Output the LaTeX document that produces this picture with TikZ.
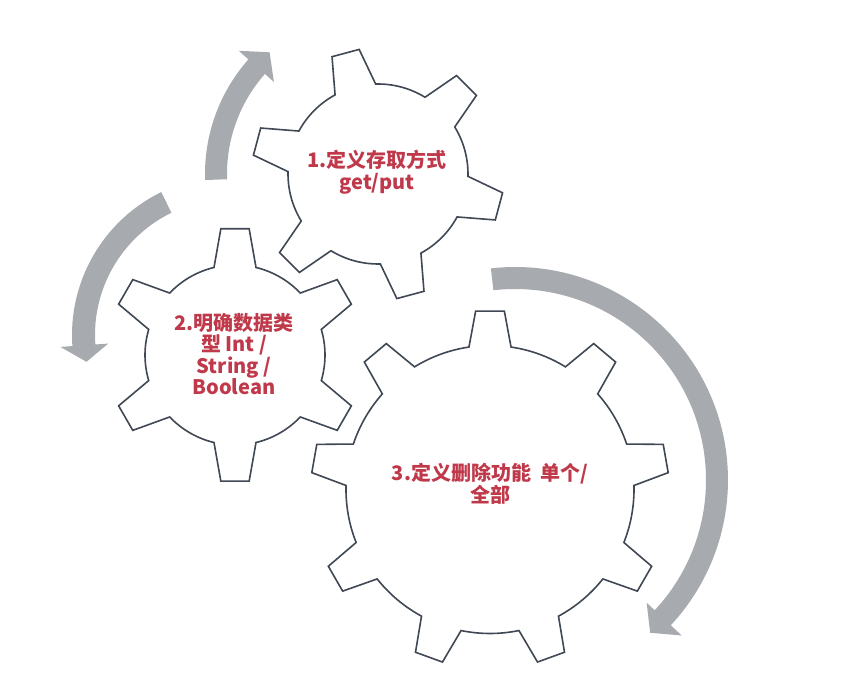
\documentclass[tikz,border=0pt]{standalone}
\usepackage{fontspec}
\newfontfamily\cjk{Noto Sans CJK SC}
\definecolor{gearline}{RGB}{64,72,84}
\definecolor{arrowgray}{RGB}{167,170,174}
\definecolor{textred}{RGB}{192,57,75}

\begin{document}
\begin{tikzpicture}[x=1pt, y=1pt,
    gearshape/.style={draw=gearline, line width=1.6pt, fill=white},
    turnarrow/.style={fill=arrowgray},
    gearlabel/.style={text=textred, font=\cjk\bfseries\fontsize{20}{21.5}\selectfont, align=center}]

    \useasboundingbox (0,0) rectangle (844,675);

    % Gear centres
    \coordinate (c1) at (378,501);
    \coordinate (c2) at (235,320);
    \coordinate (c3) at (490,185.5);

    % Turning arrows
    \fill[turnarrow, shift={(c1)}] (182:173) arc[start angle=182, end angle=138.5, radius=173]
        -- (138.5:186) -- (131.7:163) -- (138.5:139) -- (138.5:151)
        arc[start angle=138.5, end angle=182, radius=151] -- cycle;
    \fill[turnarrow, shift={(231,340)}] (116:159) arc[start angle=116, end angle=184, radius=159]
        -- (184:171) -- (190.5:147) -- (184:123) -- (184:136)
        arc[start angle=184, end angle=116, radius=136] -- cycle;
    \fill[turnarrow, shift={(515,195)}] (96.5:213) arc[start angle=96.5, end angle=-43, radius=213]
        -- (-43:228) -- (-48.5:204) -- (-43:180) -- (-43:191)
        arc[start angle=-43, end angle=96.5, radius=191] -- cycle;

    % Gears
    \foreach \gc/\n/\rot/\ro/\ri/\tw/\rw in {c1/6/105/126/90/6.4/13.5, c2/6/90/127/90/6.4/13.5, c3/9/90/179/144/4.6/8.4} {
        \pgfmathsetmacro{\pitch}{360/\n}
        \draw[gearshape, shift={(\gc)}] (\rot-\rw:\ri)
            \foreach \i [evaluate=\i as \a using \rot+(\i-1)*\pitch] in {1,...,\n} {
                -- (\a-\tw:\ro) -- (\a+\tw:\ro) -- (\a+\rw:\ri)
                arc[start angle=\a+\rw, end angle=\a+\pitch-\rw, radius=\ri]
            } -- cycle;
    }

    % Labels
    \node[gearlabel] (g1) at (377,503) {1.定义存取方式\\get/put};
    \node[gearlabel] (g2) at (234,321) {2.明确数据类\\型 Int /\\String /\\Boolean};
    \node[gearlabel] (g3) at (490,191) {3.定义删除功能\ \ 单个/\\全部};

\end{tikzpicture}
\end{document}
